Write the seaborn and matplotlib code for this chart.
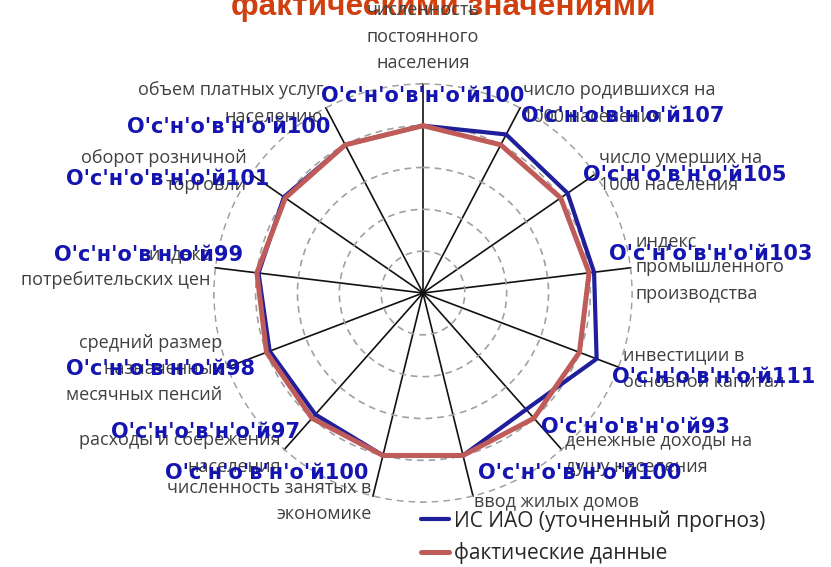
import numpy as np
import pandas as pd
import matplotlib
matplotlib.use('Agg')
import matplotlib.pyplot as plt
import seaborn as sns

# данные диаграммы
categories = [
    'численность\nпостоянного\nнаселения',
    'число родившихся на\n1000 населения',
    'число умерших на\n1000 населения',
    'индекс\nпромышленного\nпроизводства',
    'инвестиции в\nосновной капитал',
    'денежные доходы на\nдушу населения',
    'ввод жилых домов',
    'численность занятых в\nэкономике',
    'расходы и сбережения\nнаселения',
    'средний размер\nназначенных\nмесячных пенсий',
    'индекс\nпотребительских цен',
    'оборот розничной\nторговли',
    'объем платных услуг\nнаселению',
]
forecast = [100, 107, 105, 103, 111, 93, 100, 100, 97, 98, 99, 101, 100]
actual = [100, 100, 100, 100, 100, 100, 100, 100, 100, 100, 100, 100, 100]
series_names = ['ИС ИАО (уточненный прогноз)', 'фактические данные']
label_prefix = "О'с'н'о'в'н'о'й"
r_ticks = [25, 50, 75, 100, 125]
title = 'фактическими значениями'

sns.set_style('white')
plt.rcParams['font.family'] = ['Open Sans', 'DejaVu Sans']
plt.rcParams['axes.unicode_minus'] = False

BLUE = '#1f1f9c'
RED = '#bf5b58'
LABEL_BLUE = '#1414b0'


def main():
    n = len(categories)
    theta = np.linspace(0, 2 * np.pi, n, endpoint=False)
    theta_closed = np.append(theta, 2 * np.pi)

    df = pd.concat([
        pd.DataFrame({'theta': theta_closed, 'value': forecast + forecast[:1],
                      'series': series_names[0]}),
        pd.DataFrame({'theta': theta_closed, 'value': actual + actual[:1],
                      'series': series_names[1]}),
    ], ignore_index=True)

    fig = plt.figure(figsize=(8.31, 5.67), dpi=100)
    ax = fig.add_axes([0.2563, 0.1129, 0.5054, 0.7407], projection='polar')
    ax.patch.set_alpha(0)
    ax.set_theta_zero_location('N')
    ax.set_theta_direction(-1)

    sns.lineplot(data=df, x='theta', y='value', hue='series',
                 palette=[BLUE, RED], ax=ax, sort=True, legend=True)
    ax.lines[0].set_linewidth(3.0)
    ax.lines[1].set_linewidth(3.6)
    handles, labels = ax.get_legend_handles_labels()
    ax.get_legend().remove()
    handles[0].set_linewidth(3.0)
    handles[1].set_linewidth(3.6)

    ax.set_ylim(0, 125.5)
    ax.set_yticks(r_ticks)
    ax.set_yticklabels([])
    ax.set_xticks(theta)
    ax.set_xticklabels([])
    ax.set_xlabel('')
    ax.set_ylabel('')
    ax.tick_params(length=0)
    ax.spines['polar'].set_visible(False)
    ax.yaxis.grid(True, color='#a0a0a0', linestyle=(0, (4, 3)), linewidth=1.2)
    ax.xaxis.grid(True, color='#111111', linestyle='-', linewidth=1.2)
    ax.set_axisbelow(True)

    # подписи категорий
    for i, (t, text) in enumerate(zip(theta, categories)):
        s = np.sin(t)
        if i == 0:
            ha, va, r = 'center', 'bottom', 132
        else:
            ha = 'left' if s > 0 else 'right'
            va, r = 'center', 128
        ax.text(t, r, text, ha=ha, va=va, multialignment=ha,
                fontsize=13, color='#404040', linespacing=1.6, zorder=4)

    # подписи данных
    for i, (t, v) in enumerate(zip(theta, forecast)):
        if i == 0:
            off, ha = (0, 30), 'center'
        else:
            off = (15 if np.sin(t) > 0 else -15, 18 if np.cos(t) > 0 else -18)
            ha = 'left' if np.sin(t) > 0 else 'right'
        ax.annotate(f'{label_prefix}{v}', xy=(t, v), xytext=off,
                    textcoords='offset pixels', ha=ha, va='center',
                    fontsize=15, fontweight='bold', color=LABEL_BLUE,
                    family=['DejaVu Sans'], annotation_clip=False, zorder=6)

    # заголовок (верхняя часть обрезана, как в исходной картинке)
    fig.text(443 / 831, 1 - 15 / 567, title, ha='center', va='baseline',
             fontsize=22.8, fontweight='bold', color='#d0400f',
             family=['Liberation Sans', 'DejaVu Sans'], zorder=-1)

    fig.legend(handles, labels, loc='upper left',
               bbox_to_anchor=(421 / 831, 1 - 510 / 567), frameon=False,
               fontsize=15, handlelength=1.35, handletextpad=0.25,
               labelspacing=0.5, borderpad=0, borderaxespad=0)

    fig.savefig('out.png', dpi=100)


if __name__ == '__main__':
    main()
